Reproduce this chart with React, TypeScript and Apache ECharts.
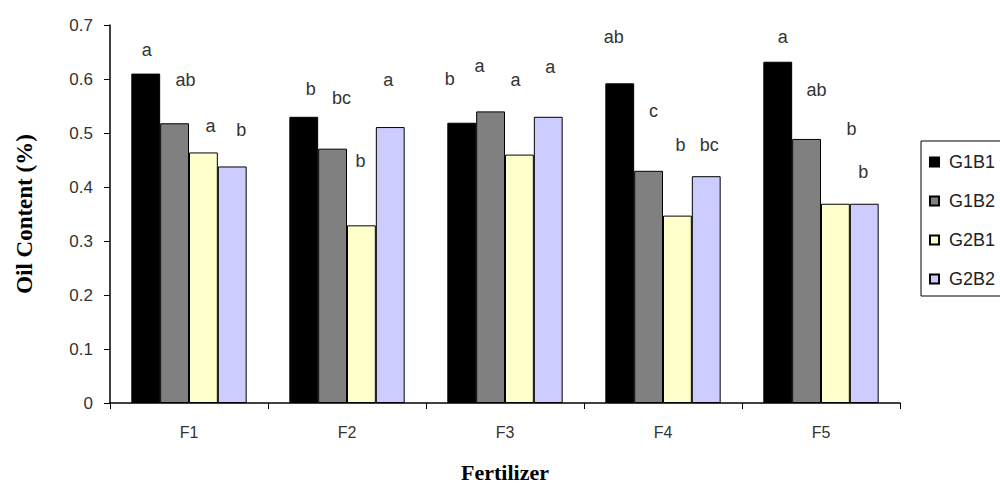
import React, { useEffect, useRef } from "react";
import * as echarts from "echarts";

const categories = ["F1", "F2", "F3", "F4", "F5"];
const seriesNames = ["G1B1", "G1B2", "G2B1", "G2B2"];
const g1b1 = [0.61, 0.53, 0.519, 0.592, 0.632];
const g1b2 = [0.518, 0.471, 0.54, 0.43, 0.489];
const g2b1 = [0.464, 0.329, 0.46, 0.347, 0.369];
const g2b2 = [0.438, 0.511, 0.53, 0.42, 0.369];
const seriesValues = [g1b1, g1b2, g2b1, g2b2];

// significance letters, per series, per category
const lettersG1B1 = ["a", "b", "b", "ab", "a"];
const lettersG1B2 = ["ab", "bc", "a", "c", "ab"];
const lettersG2B1 = ["a", "b", "a", "b", "b"];
const lettersG2B2 = ["b", "a", "a", "bc", "b"];
const seriesLetters = [lettersG1B1, lettersG1B2, lettersG2B1, lettersG2B2];

// label nudges [dx, dy] relative to bar top (layout only)
const letterNudges = [
  [[1, -12], [7, -16], [-12, -32], [-6, -34], [5, -13]],
  [[11, -31], [9, -39], [-11, -33], [5, -48], [10, -37]],
  [[7, -14], [-1, -52], [-4, -63], [3, -59], [16, -63]],
  [[9, -24], [-2, -35], [2, -38], [3, -19], [-1, -20]],
];

const yTicks = ["0", "0.1", "0.2", "0.3", "0.4", "0.5", "0.6", "0.7"];

const colors = ["#000000", "#808080", "#FFFFCC", "#CCCCFF"];

const SANS = "'Liberation Sans', Arial, sans-serif";
const SERIF = "'Liberation Serif', 'Times New Roman', serif";

export default function App() {
  const ref = useRef<HTMLDivElement>(null);
  useEffect(() => {
    if (!ref.current) return;
    const chart = echarts.init(ref.current, null, { renderer: "svg" });
    const series = seriesNames.map((name, si) => ({
      name,
      type: "bar",
      barGap: "0%",
      barCategoryGap: "27%",
      itemStyle: { color: colors[si], borderColor: "#000", borderWidth: 1 },
      data: seriesValues[si].map((v, ci) => ({
        value: v,
        label: {
          show: true,
          position: "top",
          distance: 3,
          formatter: seriesLetters[si][ci],
          offset: letterNudges[si][ci],
          color: "#333",
          fontFamily: SANS,
          fontSize: 18,
        },
      })),
    }));
    chart.setOption({
      animation: false,
      backgroundColor: "#fff",
      color: colors,
      grid: { left: 110, right: 100, top: 25, bottom: 78, containLabel: false },
      legend: {
        orient: "vertical",
        left: 921,
        top: 141,
        data: seriesNames,
        icon: "rect",
        itemWidth: 9,
        itemHeight: 9,
        itemGap: 21,
        padding: [12, 20, 8, 8],
        borderColor: "#000",
        borderWidth: 1,
        backgroundColor: "#fff",
        textStyle: {
          fontFamily: SANS,
          fontSize: 18,
          lineHeight: 17,
          color: "#222",
          padding: [0, 0, 0, 5],
        },
      },
      xAxis: {
        type: "category",
        data: categories,
        name: "Fertilizer",
        nameLocation: "middle",
        nameGap: 58,
        nameTextStyle: { fontFamily: SERIF, fontWeight: "bold", fontSize: 22, color: "#000" },
        axisLine: { lineStyle: { color: "#000", width: 1.5 } },
        axisTick: { show: true, length: 6, lineStyle: { color: "#000" } },
        axisLabel: { fontFamily: SANS, fontSize: 16, color: "#333", margin: 21 },
      },
      yAxis: {
        type: "value",
        min: 0,
        max: 0.7,
        interval: 0.1,
        name: "Oil Content (%)",
        nameLocation: "middle",
        nameGap: 74,
        nameTextStyle: { fontFamily: SERIF, fontWeight: "bold", fontSize: 23, color: "#000" },
        axisLine: { show: true, lineStyle: { color: "#000", width: 1.5 } },
        axisTick: { show: true, length: 6, lineStyle: { color: "#000" } },
        splitLine: { show: false },
        axisLabel: {
          fontFamily: SANS,
          fontSize: 17,
          color: "#333",
          margin: 17,
          formatter: (v: number) => yTicks[Math.round(v * 10)] ?? String(v),
        },
      },
      series,
    });
    return () => chart.dispose();
  }, []);
  return (
    <div
      ref={ref}
      style={{ position: "fixed", left: 0, top: 0, width: 1000, height: 488 }}
    />
  );
}
